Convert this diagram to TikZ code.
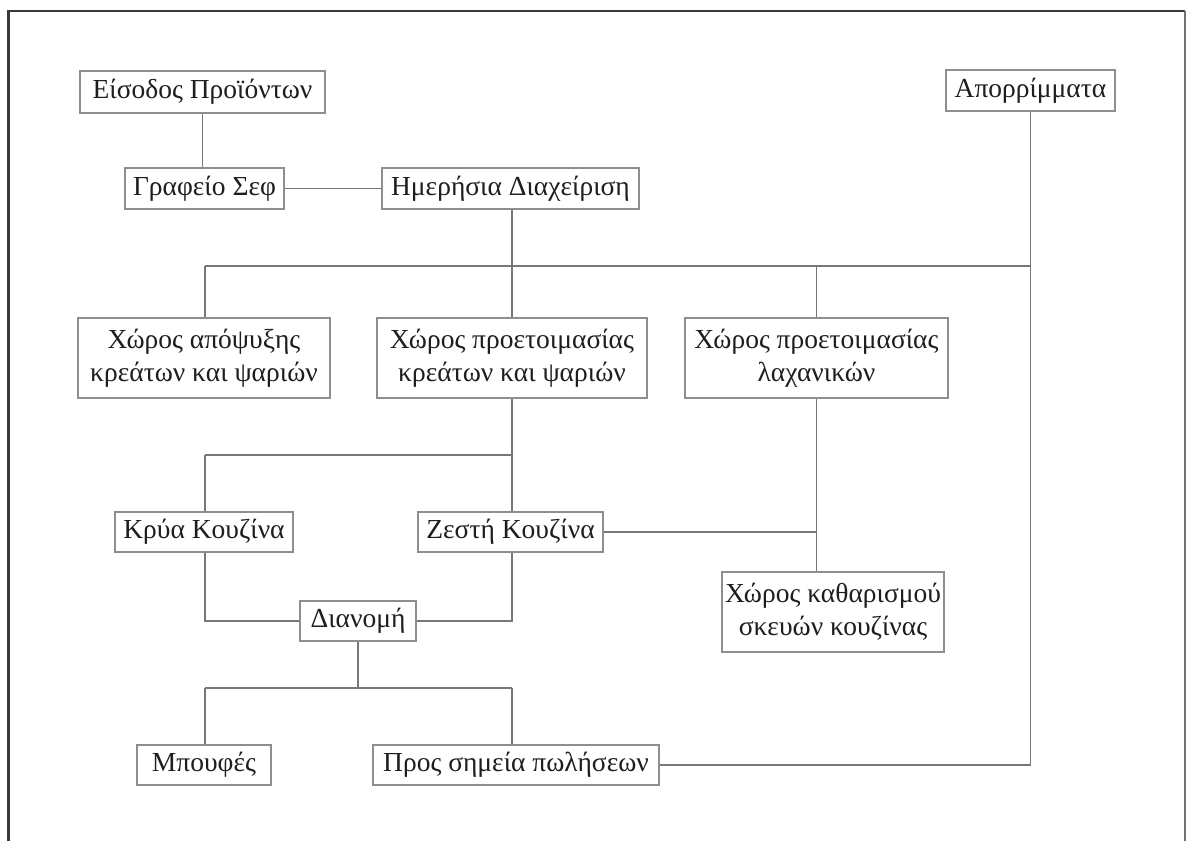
\documentclass[tikz,border=0pt]{standalone}
\usepackage{fontspec}
\setmainfont{Liberation Serif}
\definecolor{boxline}{HTML}{8E8E8E}
\definecolor{wire}{HTML}{777777}
\definecolor{frameline}{HTML}{3A3A3A}
\definecolor{inkcol}{HTML}{1E1E1E}
\tikzset{
  room/.style={draw=boxline, line width=1.2pt, fill=white, text=inkcol,
    font=\fontsize{27.5}{33}\selectfont, align=center, inner sep=0pt},
  wirestyle/.style={draw=wire, line width=1.1pt},
}
\begin{document}
\begin{tikzpicture}[x=1pt,y=-1pt]
\useasboundingbox (0,0) rectangle (1187,841);
\fill[white] (0,0) rectangle (1187,841);

% page frame, open at the bottom
\draw[frameline, line width=2.4pt] (8.5,841) -- (8.5,11) -- (1185,11);
\draw[boxline!80!black, line width=1.4pt] (1185,11) -- (1185,841);

% rooms
\node[room, minimum width=245pt, minimum height=42pt] (eis)   at (202.5,92)  {Είσοδος Προϊόντων};
\node[room, minimum width=159pt, minimum height=41pt] (graf)  at (204.5,188.5) {Γραφείο Σεφ};
\node[room, minimum width=257pt, minimum height=41pt] (hmer)  at (510.5,188.5) {Ημερήσια Διαχείριση};
\node[room, minimum width=169pt, minimum height=41pt] (aporr) at (1030.5,90.5) {Απορρίμματα};
\node[room, minimum width=252pt, minimum height=80pt] (apo)   at (204,358) {Χώρος απόψυξης\\κρεάτων και ψαριών};
\node[room, minimum width=270pt, minimum height=80pt] (kreat) at (512,358) {Χώρος προετοιμασίας\\κρεάτων και ψαριών};
\node[room, minimum width=263pt, minimum height=80pt] (lax)   at (816.5,358) {Χώρος προετοιμασίας\\λαχανικών};
\node[room, minimum width=178pt, minimum height=40pt] (krya)  at (204,532) {Κρύα Κουζίνα};
\node[room, minimum width=185pt, minimum height=40pt] (zesti) at (510.5,532) {Ζεστή Κουζίνα};
\node[room, minimum width=116pt, minimum height=40pt] (dian)  at (358,621) {Διανομή};
\node[room, minimum width=222pt, minimum height=80pt] (kath)  at (833,612) {Χώρος καθαρισμού\\σκευών κουζίνας};
\node[room, minimum width=134pt, minimum height=40pt] (mpouf) at (204,765) {Μπουφές};
\node[room, minimum width=286pt, minimum height=40pt] (pros)  at (516,765) {Προς σημεία πωλήσεων};

% junction points of the wiring
\coordinate (busA) at (205,266);
\coordinate (busAend) at (1031,266);
\coordinate (busB) at (205,455);
\coordinate (busC) at (205,688);
\coordinate (spine) at (512,0);

% wiring
\draw[wirestyle] (eis.south) -- (eis.south |- graf.north);
\draw[wirestyle] (graf.east) -- (hmer.west);
\draw[wirestyle] (hmer.south -| spine) -- (spine |- busA);
\draw[wirestyle] (busA) -- (busAend);
\draw[wirestyle] (busA) -- (busA |- apo.north);
\draw[wirestyle] (spine |- busA) -- (spine |- kreat.north);
\draw[wirestyle] (lax.north) -- (lax.north |- busA);
\draw[wirestyle] (aporr.south) -- (aporr.south |- pros.east) -- (pros.east);
\draw[wirestyle] (spine |- kreat.south) -- (spine |- zesti.north);
\draw[wirestyle] (busB) -- (spine |- busB);
\draw[wirestyle] (busB) -- (busB |- krya.north);
\draw[wirestyle] (lax.south) -- (lax.south |- kath.north);
\draw[wirestyle] (zesti.east) -- (zesti.east -| lax.south);
\draw[wirestyle] (busA |- krya.south) |- (dian.west);
\draw[wirestyle] (spine |- zesti.south) |- (dian.east);
\draw[wirestyle] (dian.south) -- (dian.south |- busC);
\draw[wirestyle] (busC) -- (spine |- busC);
\draw[wirestyle] (busC) -- (busC |- mpouf.north);
\draw[wirestyle] (spine |- busC) -- (spine |- pros.north);
\end{tikzpicture}
\end{document}
